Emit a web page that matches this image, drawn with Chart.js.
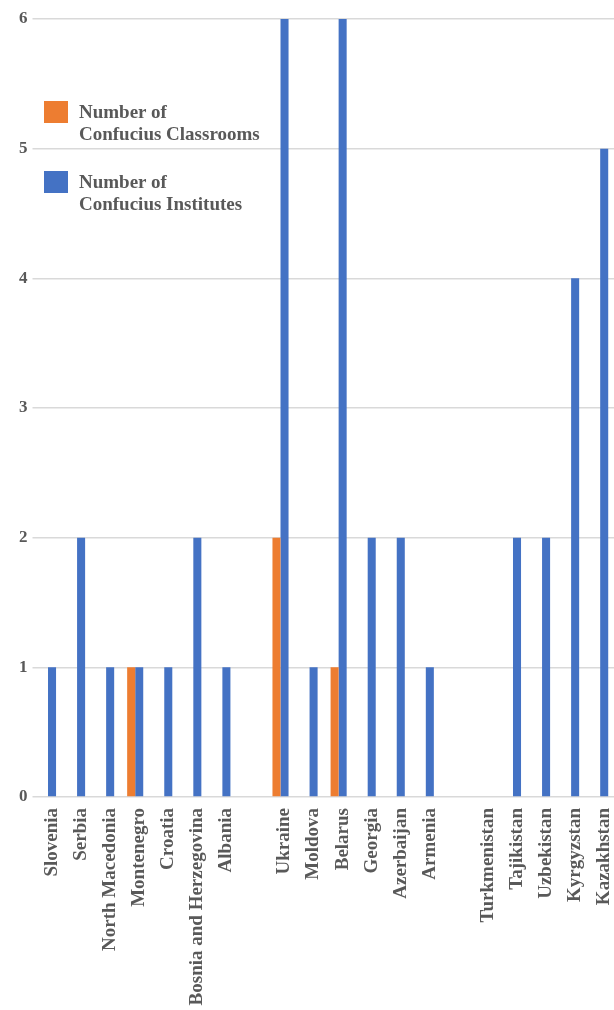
<!DOCTYPE html>
<html>
<head>
<meta charset="utf-8">
<script src="https://cdn.jsdelivr.net/npm/chart.js@4/dist/chart.umd.min.js"></script>
<style>
  html, body { margin: 0; padding: 0; overflow: hidden; background: #fff; }
  #wrap { position: absolute; left: 0; top: 0; width: 638px; height: 1010px; }
  .legend_item { position: absolute; left: 44px; font-family: "Liberation Serif", serif; font-weight: bold; font-size: 19px; line-height: 22px; color: #595959; }
  .legend_box { position: absolute; left: 0; top: 0; width: 24px; height: 22px; }
  .legend_text { position: absolute; left: 35px; top: 0; white-space: nowrap; }
</style>
</head>
<body>
<div id="wrap">
  <canvas id="myChart" width="638" height="1010"></canvas>
  <div class="legend_item" style="top:101px">
    <div class="legend_box" style="background:#ED7D31"></div>
    <div class="legend_text">Number of<br>Confucius Classrooms</div>
  </div>
  <div class="legend_item" style="top:171px">
    <div class="legend_box" style="background:#4472C4"></div>
    <div class="legend_text">Number of<br>Confucius Institutes</div>
  </div>
</div>
<script>
// categories (empty strings are the gaps between regions)
const countries = [
  "Slovenia", "Serbia", "North Macedonia", "Montenegro", "Croatia",
  "Bosnia and Herzegovina", "Albania", "", "Ukraine", "Moldova", "Belarus",
  "Georgia", "Azerbaijan", "Armenia", "", "Turkmenistan", "Tajikistan",
  "Uzbekistan", "Kyrgyzstan", "Kazakhstan"
];
const classrooms = [
  null, null, null, 1, null, null, null, null, 2, null, 1,
  null, null, null, null, null, null, null, null, null
];
const institutes = [
  1, 2, 1, 1, 1, 2, 1, null, 6, 1, 6,
  2, 2, 1, null, null, 2, 2, 4, 5
];
// empty slot so the blue bar sits in the middle of each category
const spacer = countries.map(() => null);
const yTicks = [0, 1, 2, 3, 4, 5, 6];

const tickFont = { family: "Liberation Serif", weight: "bold", size: 19 };

let ctx = document.getElementById("myChart").getContext("2d");
let chart = new Chart(ctx, {
  type: "bar",
  data: {
    labels: countries,
    datasets: [
      { label: "Number of Confucius Classrooms", data: classrooms, backgroundColor: "#ED7D31" },
      { label: "Number of Confucius Institutes", data: institutes, backgroundColor: "#4472C4" },
      { label: "", data: spacer, backgroundColor: "rgba(0,0,0,0)" },
    ],
  },
  options: {
    responsive: false,
    animation: false,
    categoryPercentage: 0.83,
    barPercentage: 1.0,
    layout: { autoPadding: false, padding: { top: 19, left: 0, right: 0, bottom: 0 } },
    plugins: { legend: { display: false }, tooltip: { enabled: false } },
    scales: {
      x: {
        grid: { display: false, drawTicks: false },
        border: { display: false },
        ticks: {
          autoSkip: false,
          minRotation: 90,
          maxRotation: 90,
          padding: 11,
          color: "#595959",
          font: tickFont,
        },
        afterFit: (scale) => { scale.height = 213; },
      },
      y: {
        min: 0,
        max: 6,
        afterBuildTicks: (scale) => { scale.ticks = yTicks.map((v) => ({ value: v })); },
        grid: { color: "#d9d9d9", lineWidth: 1.5, drawTicks: true, tickLength: 5 },
        border: { display: false },
        ticks: { padding: 5, color: "#595959", font: { family: "Liberation Serif", weight: "bold", size: 17 } },
        afterFit: (scale) => { scale.width = 37.5; },
      },
    },
  },
});
</script>
</body>
</html>
